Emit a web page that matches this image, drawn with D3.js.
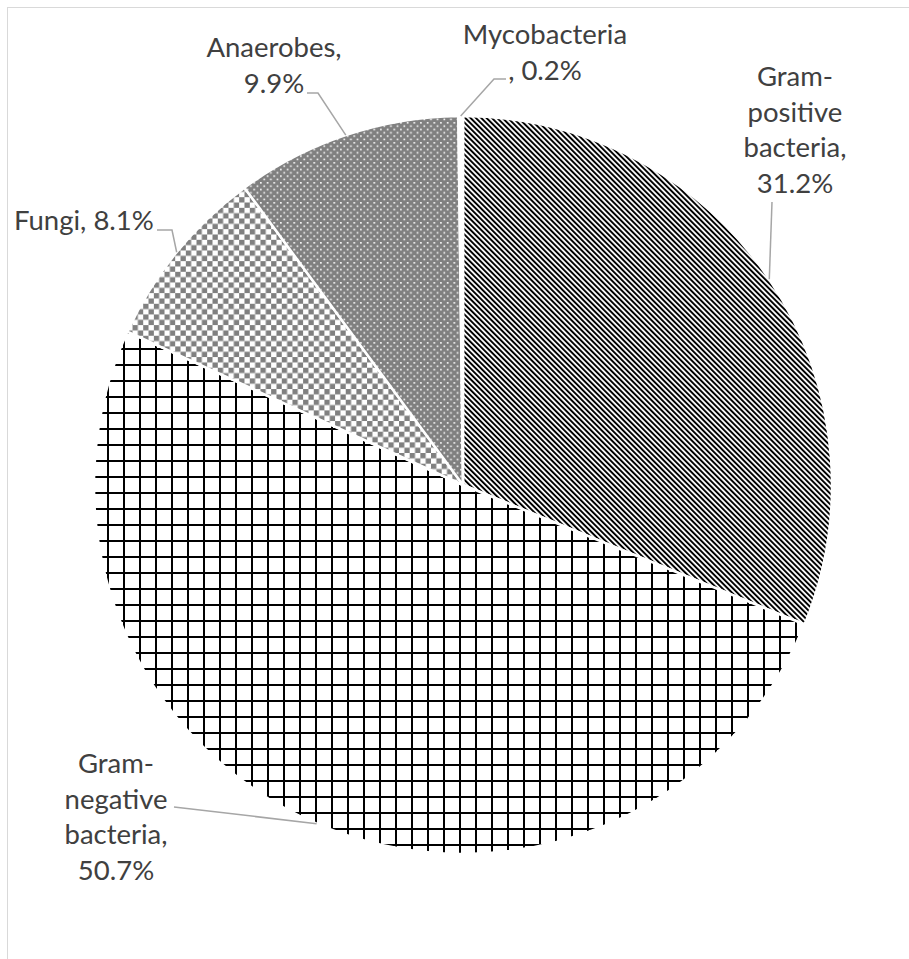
<!DOCTYPE html>
<html>
<head>
<meta charset="utf-8">
<script src="https://cdn.jsdelivr.net/npm/d3@7/dist/d3.min.js"></script>
<style>
  html, body { margin: 0; padding: 0; background: #fff; }
  svg { display: block; }
  .lbl { font-family: Lato, "Open Sans", sans-serif; fill: #404040; }
</style>
</head>
<body>
<svg id="chart" width="909" height="959"></svg>
<script>
// Share of isolated pathogens, clockwise from 12 o'clock
const categories = ["Gram-positive bacteria", "Gram-negative bacteria", "Fungi", "Anaerobes", "Mycobacteria"];
const values = [31.2, 50.7, 8.1, 9.9, 0.2];
// How each category name is broken across label lines
const labelLines = [
  ["Gram-", "positive", "bacteria,"],
  ["Gram-", "negative", "bacteria,"],
  ["Fungi,"],
  ["Anaerobes,"],
  ["Mycobacteria"]
];

const W = 909, H = 959;
const cx = 463, cy = 485, R = 369;
const lineH = 35.7;

const svg = d3.select("#chart");

// chart area frame (right and bottom edges fall outside the view)
svg.append("rect")
  .attr("x", 7.5).attr("y", 7.5)
  .attr("width", W + 20).attr("height", H + 20)
  .attr("fill", "none").attr("stroke", "#d9d9d9").attr("stroke-width", 1);

// ---- fill patterns ----
const defs = svg.append("defs");

// wide downward diagonal stripes
const pStripe = defs.append("pattern")
  .attr("id", "p-stripe").attr("patternUnits", "userSpaceOnUse")
  .attr("width", 3.77).attr("height", 3.77)
  .attr("patternTransform", "rotate(-45)");
pStripe.append("rect").attr("width", 3.77).attr("height", 3.77).attr("fill", "#fff");
pStripe.append("rect").attr("width", 1.95).attr("height", 3.77).attr("fill", "#000");

// large grid
const pGrid = defs.append("pattern")
  .attr("id", "p-grid").attr("patternUnits", "userSpaceOnUse")
  .attr("width", 16).attr("height", 16);
pGrid.append("rect").attr("width", 16).attr("height", 16).attr("fill", "#fff");
pGrid.append("rect").attr("x", 12).attr("y", 0).attr("width", 2).attr("height", 16).attr("fill", "#000");
pGrid.append("rect").attr("x", 0).attr("y", 7).attr("width", 16).attr("height", 2).attr("fill", "#000");

// checkerboard
const cs = 5.33;
const pCheck = defs.append("pattern")
  .attr("id", "p-check").attr("patternUnits", "userSpaceOnUse")
  .attr("width", cs * 2).attr("height", cs * 2);
pCheck.append("rect").attr("width", cs * 2).attr("height", cs * 2).attr("fill", "#fff");
pCheck.append("rect").attr("width", cs).attr("height", cs).attr("fill", "#808080");
pCheck.append("rect").attr("x", cs).attr("y", cs).attr("width", cs).attr("height", cs).attr("fill", "#808080");

// dotted grey
const ds = 6.67;
const pDots = defs.append("pattern")
  .attr("id", "p-dots").attr("patternUnits", "userSpaceOnUse")
  .attr("width", ds).attr("height", ds);
pDots.append("rect").attr("width", ds).attr("height", ds).attr("fill", "#808080");
pDots.append("rect").attr("x", 0.5).attr("y", 0.5).attr("width", 1.6).attr("height", 1.6).attr("fill", "#fff");
pDots.append("rect").attr("x", 0.5 + ds / 2).attr("y", 0.5 + ds / 2).attr("width", 1.6).attr("height", 1.6).attr("fill", "#fff");

// thin vertical lines
const pVert = defs.append("pattern")
  .attr("id", "p-vert").attr("patternUnits", "userSpaceOnUse")
  .attr("width", 6).attr("height", 6);
pVert.append("rect").attr("width", 6).attr("height", 6).attr("fill", "#fff");
pVert.append("rect").attr("x", 0.4).attr("width", 1).attr("height", 6).attr("fill", "#777");

const fills = ["url(#p-stripe)", "url(#p-grid)", "url(#p-check)", "url(#p-dots)", "url(#p-vert)"];

// ---- pie ----
const pie = d3.pie().sort(null).value(d => d).startAngle(0).endAngle(2 * Math.PI);
const arcs = pie(values);
const arc = d3.arc().innerRadius(0).outerRadius(R);
const rimArc = d3.arc().innerRadius(R).outerRadius(R);

const g = svg.append("g").attr("transform", `translate(${cx},${cy})`);
g.selectAll("path.slice")
  .data(arcs)
  .join("path")
  .attr("class", "slice")
  .attr("d", arc)
  .attr("fill", (d, i) => fills[i])
  .attr("stroke", "#fff")
  .attr("stroke-width", 2.5)
  .attr("stroke-linejoin", "round");

// ---- data labels ----
// anchor: centre x and first baseline of each label block;
// leader: points from the label towards the slice (rim point added from the arc)
const labelLayout = [
  { x: 795, y: 86, anchor: "middle", leader: [[772, 202]] },
  { x: 116, y: 773, anchor: "middle", leader: [[174, 807]] },
  { x: 14, y: 230, anchor: "start", inline: true, leader: [[157, 230], [172, 230]] },
  { x: 274, y: 57, anchor: "middle", leader: [[307, 93], [318, 93]] },
  { x: 545, y: 44, anchor: "middle", prefix: ", ", leader: [[506, 79], [494, 79]] }
];

const fmt = v => `${v.toFixed(1)}%`;

arcs.forEach((d, i) => {
  const L = labelLayout[i];
  let lines;
  if (L.inline) {
    lines = [labelLines[i].join(" ") + " " + fmt(values[i])];
  } else if (L.prefix) {
    lines = [...labelLines[i], L.prefix + fmt(values[i])];
  } else {
    lines = [...labelLines[i], fmt(values[i])];
  }
  const t = svg.append("text")
    .attr("class", "lbl")
    .attr("font-size", 27.5)
    .attr("text-anchor", L.anchor);
  lines.forEach((s, k) => {
    t.append("tspan").attr("x", L.x).attr("y", L.y + k * lineH).text(s);
  });

  const rim = rimArc.centroid(d);
  const pts = [...L.leader, [cx + rim[0], cy + rim[1]]];
  svg.append("path")
    .attr("d", d3.line()(pts))
    .attr("fill", "none")
    .attr("stroke", "#a6a6a6")
    .attr("stroke-width", 1.5);
});
</script>
</body>
</html>
